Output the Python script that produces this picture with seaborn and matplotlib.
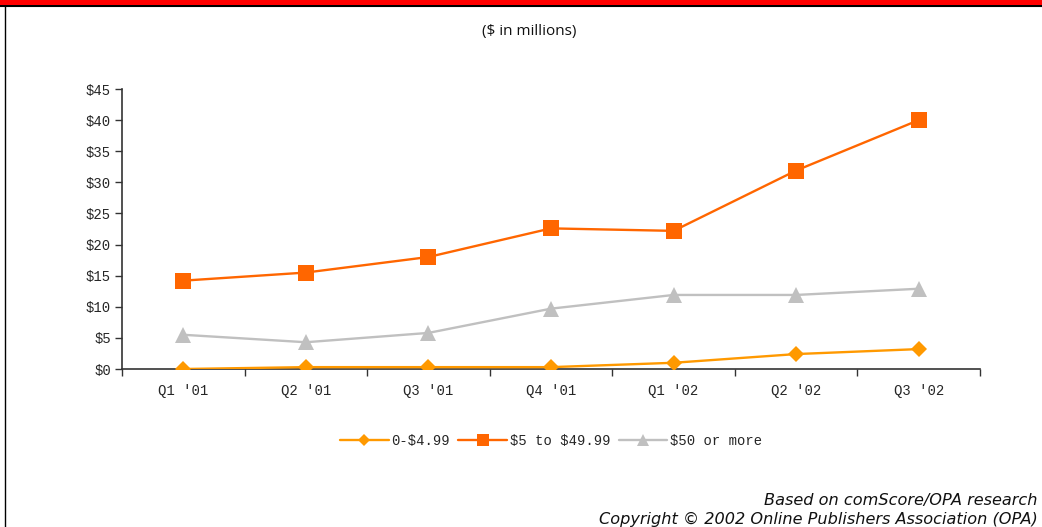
import matplotlib
matplotlib.use("Agg")
import matplotlib.pyplot as plt
import seaborn as sns
import pandas as pd
from matplotlib.lines import Line2D
from matplotlib.patches import Rectangle

quarters = ["Q1 '01", "Q2 '01", "Q3 '01", "Q4 '01", "Q1 '02", "Q2 '02", "Q3 '02"]
low = [0.0, 0.3, 0.3, 0.3, 1.0, 2.4, 3.2]
mid = [14.2, 15.5, 18.0, 22.6, 22.2, 31.9, 40.0]
high = [5.5, 4.3, 5.8, 9.7, 11.9, 11.9, 12.9]
series_names = ["0-$4.99", "$5 to $49.99", "$50 or more"]
y_ticks = [0, 5, 10, 15, 20, 25, 30, 35, 40, 45]

rows = []
for name, vals in zip(series_names, [low, mid, high]):
    for i, (q, v) in enumerate(zip(quarters, vals)):
        rows.append({"pos": i, "quarter": q, "value": v, "series": name})
df = pd.DataFrame(rows)

sns.set_theme(style="white")
plt.rcParams["font.family"] = ["DejaVu Sans"]
mono = "Liberation Mono"

colors = {series_names[0]: "#FF9900", series_names[1]: "#FF6600", series_names[2]: "#C0C0C0"}
markers = {series_names[0]: "D", series_names[1]: "s", series_names[2]: "^"}
sizes = {series_names[0]: 8, series_names[1]: 11, series_names[2]: 11}

fig = plt.figure(figsize=(10.42, 5.27), dpi=100)
ax = fig.add_axes([122 / 1042, 1 - 369 / 527, (980 - 122) / 1042, (369 - 89) / 527])

for name in [series_names[2], series_names[1], series_names[0]]:
    sub = df[df["series"] == name]
    sns.lineplot(data=sub, x="pos", y="value", ax=ax, color=colors[name],
                 marker=markers[name], markersize=sizes[name], markeredgewidth=0,
                 linewidth=1.7, legend=False, zorder=3)

ax.set_xlim(-0.5, 6.5)
ax.set_ylim(0, 45)
ax.set_yticks(y_ticks)
ax.set_yticklabels([f"\\${t}" for t in y_ticks], fontfamily=mono, fontsize=10)
ax.set_xticks(range(len(quarters)))
ax.set_xticklabels(quarters, fontfamily=mono, fontsize=10)
ax.set_xticks([i - 0.5 for i in range(len(quarters) + 1)], minor=True)
ax.tick_params(axis="x", which="major", length=0, pad=11)
ax.tick_params(axis="x", which="minor", length=5, width=1, color="#333333", direction="out", bottom=True)
ax.tick_params(axis="y", which="major", length=5, width=1, color="#333333", direction="out", left=True, pad=3)
ax.set_xlabel("")
ax.set_ylabel("")
for s in ["top", "right"]:
    ax.spines[s].set_visible(False)
for s in ["left", "bottom"]:
    ax.spines[s].set_color("#333333")
    ax.spines[s].set_linewidth(1.2)
ax.set_facecolor("none")
ax.grid(False)

# header bar and border
fig.patches.append(Rectangle((0, 1 - 5 / 527), 1, 5 / 527, transform=fig.transFigure,
                             facecolor="#FF0000", edgecolor="none", zorder=5))
fig.add_artist(Line2D([0, 1], [1 - 6 / 527, 1 - 6 / 527], transform=fig.transFigure,
                      color="black", linewidth=1.5))
fig.add_artist(Line2D([5 / 1042, 5 / 1042], [0, 1 - 6 / 527], transform=fig.transFigure,
                      color="black", linewidth=1))

fig.text(529 / 1042, 1 - 31 / 527, "(\\$ in millions)", ha="center", va="center",
         fontsize=11, fontfamily="Open Sans", color="#111111")

handles = [Line2D([], [], color=colors[n], marker=markers[n], markersize=sizes[n] * 0.75,
                  markeredgewidth=0, linewidth=1.7) for n in series_names]
labels = [n.replace("$", "\\$") for n in series_names]
fig.legend(handles, labels, loc="center", bbox_to_anchor=(551 / 1042, 1 - 441 / 527),
           ncol=3, frameon=False, prop={"family": mono, "size": 10},
           handlelength=3.5, handletextpad=0.2, columnspacing=0.6)

fig.text(1038 / 1042, 1 - 500 / 527, "Based on comScore/OPA research", ha="right", va="center",
         fontsize=11.6, style="italic", color="#111111")
fig.text(1038 / 1042, 1 - 519 / 527, "Copyright \u00a9 2002 Online Publishers Association (OPA)",
         ha="right", va="center", fontsize=11.6, style="italic", color="#111111")

fig.savefig("out.png", dpi=100, facecolor="white")
